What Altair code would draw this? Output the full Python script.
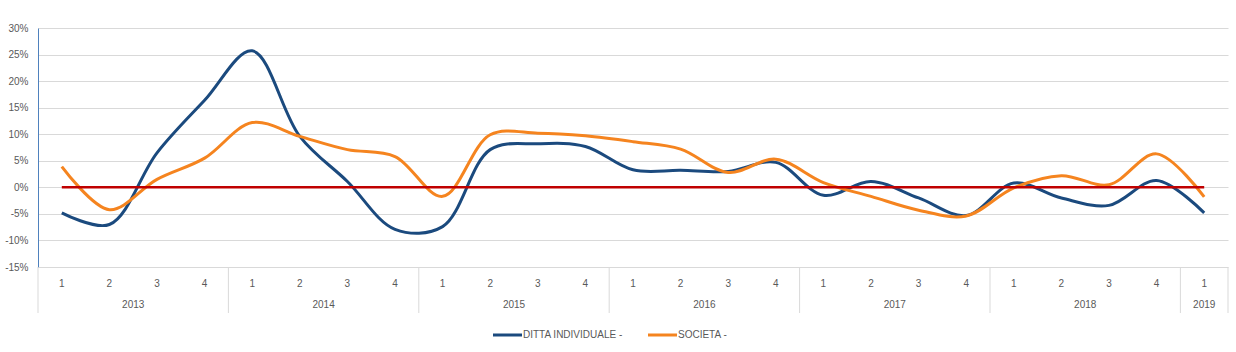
import altair as alt
import pandas as pd

# ---- data ----
years = ["2013", "2014", "2015", "2016", "2017", "2018", "2019"]
quarters_per_year = [4, 4, 4, 4, 4, 4, 1]
quarter_labels = ["1", "2", "3", "4"] * 6 + ["1"]
series_names = ["DITTA INDIVIDUALE -", "SOCIETA -"]
series_colors = ["#1B4A7E", "#F5841F"]
ditta = [-4.8, -7.0, 6.5, 16.4, 25.7, 9.6, 1.1, -7.9, -7.4, 7.1, 8.2, 7.7,
         3.3, 3.2, 3.0, 4.7, -1.5, 1.1, -2.0, -5.3, 0.8, -2.0, -3.4, 1.3, -4.8]
societa = [3.9, -4.2, 1.5, 5.5, 12.2, 9.6, 7.1, 5.8, -1.7, 9.9, 10.2, 9.7,
           8.6, 7.2, 2.8, 5.3, 0.9, -1.7, -4.3, -5.4, -0.1, 2.2, 0.5, 6.3, -1.8]
y_ticks = [-15, -10, -5, 0, 5, 10, 15, 20, 25, 30]

# ---- tables built from the arrays ----
n = len(quarter_labels)
rows = []
for name, vals in zip(series_names, [ditta, societa]):
    for i, v in enumerate(vals):
        rows.append({"idx": i, "value": v / 100.0, "serie": name})
lines_df = pd.DataFrame(rows)

q_df = pd.DataFrame({"idx": list(range(n)), "label": quarter_labels})

year_rows = []
sep = [-0.5]
start = 0
for y, c in zip(years, quarters_per_year):
    year_rows.append({"year": y, "center": start + (c - 1) / 2.0})
    start += c
    sep.append(start - 0.5)
year_df = pd.DataFrame(year_rows)
sep_df = pd.DataFrame({"pos": sep})
zero_df = pd.DataFrame({"x0": [0], "x1": [n - 1], "v": [0.0]})

W, H = 1190, 239
FONT = "Liberation Sans"
GRAY = "#595959"

xscale = alt.Scale(domain=[-0.5, n - 0.5], nice=False, zero=False)
yscale = alt.Scale(domain=[-0.15, 0.30], nice=False, zero=False)
cscale = alt.Scale(domain=series_names, range=series_colors)
y_axis = alt.Axis(
    values=[t / 100.0 for t in y_ticks],
    labelExpr="round(datum.value*100) + '%'",
    grid=True, gridColor="#D9D9D9", gridWidth=1,
    ticks=False, domain=True, domainColor="#4F81BD", domainWidth=1,
    labelFont=FONT, labelFontSize=10, labelColor=GRAY, labelPadding=10,
    title=None)

lines = alt.Chart(lines_df).mark_line(
    interpolate="catmull-rom", strokeWidth=3
).encode(
    x=alt.X("idx:Q", scale=xscale, axis=None),
    y=alt.Y("value:Q", scale=yscale, axis=y_axis),
    color=alt.Color("serie:N", scale=cscale, legend=None),
)

zero = alt.Chart(zero_df).mark_rule(color="#C00000", strokeWidth=2.5).encode(
    x=alt.X("x0:Q", scale=xscale, axis=None), x2=alt.X2("x1"),
    y=alt.Y("v:Q", scale=yscale, axis=y_axis)
)

seps = alt.Chart(sep_df).mark_rule(color="#D9D9D9", strokeWidth=1).encode(
    x=alt.X("pos:Q", scale=xscale, axis=None), y=alt.value(H), y2=alt.value(H + 46)
)

qtext = alt.Chart(q_df).mark_text(font=FONT, fontSize=10, color=GRAY, baseline="middle").encode(
    x=alt.X("idx:Q", scale=xscale, axis=None), y=alt.value(H + 17), text="label:N"
)

ytext = alt.Chart(year_df).mark_text(font=FONT, fontSize=10, color=GRAY, baseline="middle").encode(
    x=alt.X("center:Q", scale=xscale, axis=None), y=alt.value(H + 38), text="year:N"
)

# manual legend (swatch + label) below the category rows
one = pd.DataFrame({"k": [0]})
leg_y = H + 68
leg_layers = []
for name, col, lx in zip(series_names, series_colors, [455, 610]):
    leg_layers.append(alt.Chart(one).mark_rule(strokeWidth=3, color=col).encode(
        x=alt.value(lx), x2=alt.value(lx + 29), y=alt.value(leg_y)))
    leg_layers.append(alt.Chart(one).mark_text(font=FONT, fontSize=10, color=GRAY,
                                                align="left", baseline="middle").encode(
        x=alt.value(lx + 30), y=alt.value(leg_y), text=alt.value(name)))

chart = alt.layer(seps, qtext, ytext, lines, zero, *leg_layers).properties(
    width=W, height=H,
    autosize=alt.AutoSizeParams(type="none"),
    padding={"left": 38, "top": 28, "right": 8, "bottom": 352 - 28 - H},
    background="white",
).configure_view(stroke=None)

chart.save("out.html", embed_options={"renderer": "svg", "actions": False})
